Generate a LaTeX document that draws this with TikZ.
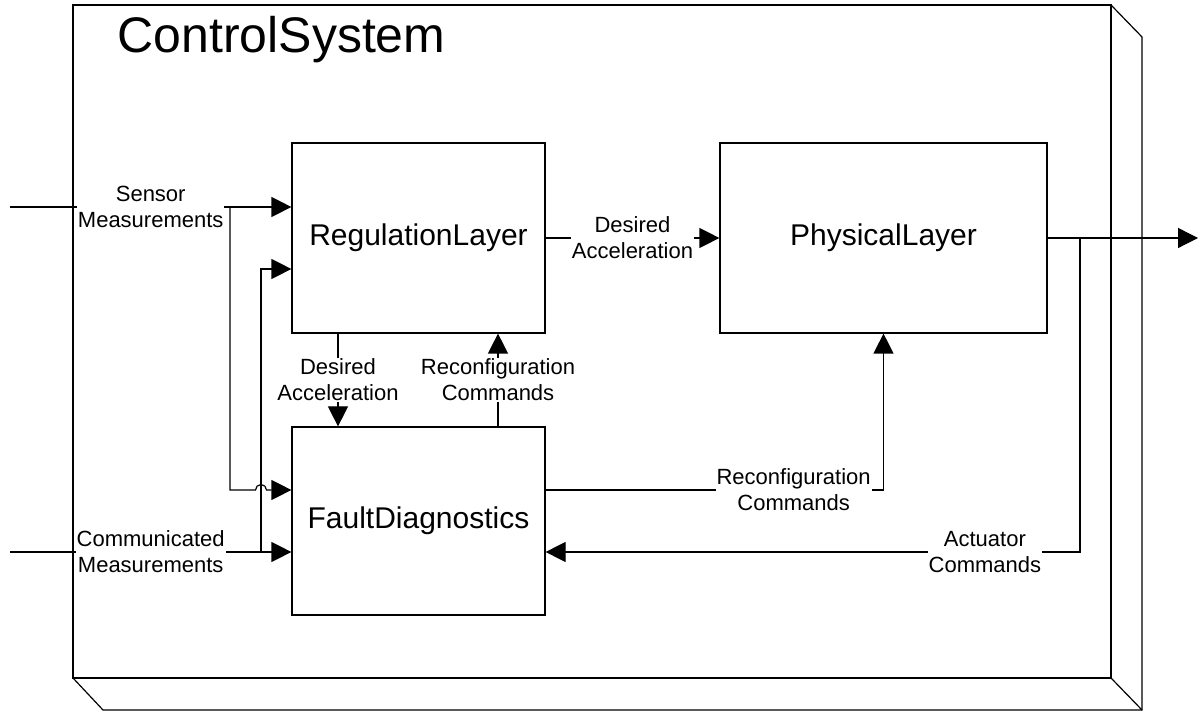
\documentclass[tikz,border=0pt]{standalone}
\usepackage{fontspec}
\setmainfont{Liberation Sans}
\usetikzlibrary{arrows.meta}

\begin{document}
\begin{tikzpicture}[x=1pt,y=1pt,line width=1.2pt,
    >={Triangle[length=20pt,width=20pt]},
    block/.style={draw, minimum height=190pt, font=\fontsize{30}{36}\selectfont},
    lbl/.style={fill=white, inner sep=1pt, align=center, font=\fontsize{22}{26}\selectfont}]
    \useasboundingbox (0,0) rectangle (1198,711);

    % outer box with its depth
    \draw (73,33) rectangle (1111,706);
    \draw (1111,706) -- (1142,674) -- (1142,1) -- (103,1) -- (73,33);
    \draw (1111,33) -- (1142,1);
    \node[font=\fontsize{50}{60}\selectfont, anchor=base, inner sep=0pt] (title) at (281.5,658) {ControlSystem};

    \node[block, minimum width=253pt] (reg) at (418.5,473) {RegulationLayer};
    \node[block, minimum width=327pt] (phys) at (883.5,473) {PhysicalLayer};
    \node[block, minimum width=253pt, minimum height=188pt] (fault) at (418.5,190) {FaultDiagnostics};

    \coordinate (sIn) at (10,504);
    \coordinate (cIn) at (10,159);
    \coordinate (sJ) at (230,504);
    \coordinate (cJ) at (261,159);
    \coordinate (hop) at (255.5,221);
    \coordinate (aJ) at (1080,473);
    \coordinate (out) at (1198,473);

    % inputs
    \draw[->] (sIn) -- node[lbl, pos=0.5] {Sensor\\Measurements} ([yshift=31pt]reg.west);
    \draw[->] (cIn) -- node[lbl, pos=0.5] {Communicated\\Measurements} ([yshift=-31pt]fault.west);
    \draw[->] (sJ) |- (hop) arc[start angle=180, end angle=0, radius=5.5] -- ([yshift=31pt]fault.west);
    \draw[->] (cJ) |- ([yshift=-31pt]reg.west);

    % between the layers
    \draw[->] (reg) -- node[lbl] {Desired\\Acceleration} (phys);
    \draw[->] ([xshift=-80.5pt]reg.south) -- node[lbl] {Desired\\Acceleration} ([xshift=-80.5pt]fault.north);
    \draw[->] ([xshift=79.5pt]fault.north) -- node[lbl] {Reconfiguration\\Commands} ([xshift=79.5pt]reg.south);
    \draw[->] ([yshift=31pt]fault.east) -| node[lbl, pos=0.367] {Reconfiguration\\Commands} (phys.south);

    % outputs
    \draw[->] (phys) -- (out);
    \draw[->] (aJ) |- node[lbl, pos=0.589] {Actuator\\Commands} ([yshift=-31pt]fault.east);

\end{tikzpicture}
\end{document}
